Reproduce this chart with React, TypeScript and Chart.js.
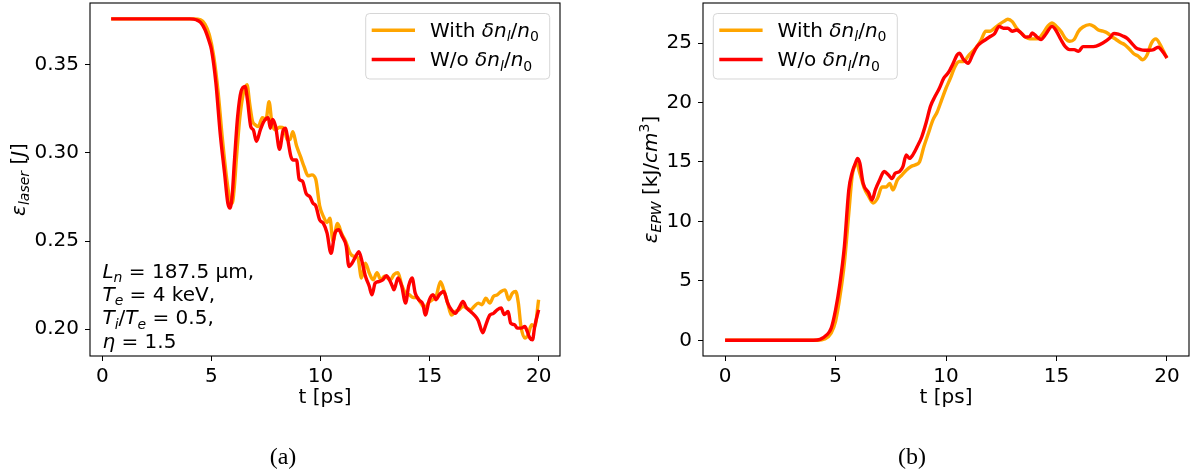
import React, { useEffect, useRef } from 'react';
import { Chart, registerables } from 'chart.js';
Chart.register(...registerables);

const FONT = '"DejaVu Sans", sans-serif';
const FS = 20;
const ORANGE = '#FFA500';
const RED = '#FF0000';

// ---------- Panel (a): laser energy ----------
const laserTimeWith = [0.4, 2.0, 4.2, 4.5, 4.7, 4.9, 5.1, 5.3, 5.5, 5.7, 5.85, 5.95, 6.05, 6.15, 6.3, 6.45, 6.63, 6.75, 6.88, 7.0, 7.15, 7.33, 7.5, 7.64, 7.77, 7.94, 8.12, 8.33, 8.47, 8.6, 8.73, 8.9, 9.08, 9.25, 9.43, 9.6, 9.78, 9.96, 10.13, 10.3, 10.43, 10.57, 10.78, 10.96, 11.18, 11.36, 11.53, 11.71, 11.88, 12.06, 12.23, 12.41, 12.59, 12.76, 12.94, 13.2, 13.37, 13.55, 13.72, 13.9, 14.07, 14.25, 14.43, 14.6, 14.78, 14.95, 15.13, 15.3, 15.5, 15.65, 15.83, 16.0, 16.18, 16.35, 16.53, 16.7, 16.88, 17.05, 17.23, 17.4, 17.58, 17.76, 17.93, 18.1, 18.28, 18.46, 18.63, 18.8, 18.95, 19.07, 19.19, 19.37, 19.51, 19.68, 19.82, 20.0];
const laserWith = [0.376, 0.376, 0.376, 0.3755, 0.373, 0.367, 0.355, 0.335, 0.308, 0.285, 0.273, 0.2715, 0.281, 0.298, 0.32, 0.333, 0.3387, 0.328, 0.318, 0.316, 0.315, 0.32, 0.319, 0.329, 0.317, 0.313, 0.3145, 0.314, 0.3075, 0.3075, 0.312, 0.304, 0.298, 0.292, 0.287, 0.2875, 0.285, 0.27, 0.264, 0.2605, 0.263, 0.25, 0.26, 0.2545, 0.249, 0.243, 0.2413, 0.2404, 0.229, 0.2375, 0.232, 0.228, 0.232, 0.228, 0.23, 0.228, 0.231, 0.232, 0.2252, 0.2205, 0.2195, 0.218, 0.218, 0.2148, 0.212, 0.215, 0.2167, 0.2186, 0.227, 0.2223, 0.2148, 0.208, 0.21, 0.211, 0.213, 0.212, 0.211, 0.213, 0.2148, 0.2139, 0.2176, 0.2148, 0.2186, 0.2195, 0.2214, 0.2223, 0.2167, 0.2205, 0.2214, 0.2148, 0.2015, 0.195, 0.1967, 0.2025, 0.2015, 0.2167];
const laserTimeWo = [0.4, 2.0, 4.0, 4.3, 4.5, 4.7, 4.9, 5.0, 5.2, 5.4, 5.6, 5.75, 5.85, 5.95, 6.05, 6.2, 6.36, 6.54, 6.65, 6.8, 6.92, 7.06, 7.24, 7.41, 7.6, 7.7, 7.8, 7.94, 8.12, 8.29, 8.4, 8.5, 8.64, 8.73, 8.9, 9.02, 9.17, 9.34, 9.52, 9.65, 9.78, 9.96, 10.13, 10.3, 10.48, 10.66, 10.83, 11.0, 11.18, 11.3, 11.45, 11.62, 11.76, 11.88, 12.06, 12.23, 12.36, 12.5, 12.67, 12.85, 13.02, 13.16, 13.29, 13.37, 13.55, 13.72, 13.9, 14.04, 14.2, 14.34, 14.5, 14.7, 14.8, 14.99, 15.16, 15.3, 15.44, 15.65, 15.83, 16.0, 16.18, 16.35, 16.53, 16.7, 16.88, 17.05, 17.23, 17.44, 17.58, 17.76, 17.93, 18.1, 18.28, 18.42, 18.6, 18.72, 18.9, 19.02, 19.19, 19.37, 19.47, 19.6, 19.72, 19.82, 20.0];
const laserWo = [0.376, 0.376, 0.376, 0.3755, 0.374, 0.37, 0.363, 0.3585, 0.34, 0.311, 0.2885, 0.2715, 0.2687, 0.276, 0.295, 0.3207, 0.335, 0.3377, 0.33, 0.315, 0.313, 0.3065, 0.313, 0.318, 0.32, 0.314, 0.319, 0.315, 0.302, 0.313, 0.314, 0.3075, 0.298, 0.296, 0.296, 0.285, 0.284, 0.277, 0.275, 0.2715, 0.27, 0.262, 0.26, 0.2545, 0.243, 0.2545, 0.2564, 0.2525, 0.247, 0.2356, 0.2375, 0.2415, 0.244, 0.2395, 0.23, 0.2245, 0.2195, 0.226, 0.227, 0.228, 0.2303, 0.228, 0.2245, 0.2223, 0.229, 0.2245, 0.2148, 0.2245, 0.229, 0.2205, 0.2167, 0.214, 0.208, 0.2167, 0.2195, 0.2167, 0.2195, 0.2214, 0.2148, 0.211, 0.209, 0.212, 0.2157, 0.212, 0.21, 0.208, 0.205, 0.198, 0.2025, 0.208, 0.209, 0.211, 0.212, 0.2083, 0.21, 0.2034, 0.2025, 0.2006, 0.2006, 0.2015, 0.199, 0.195, 0.194, 0.2015, 0.211];
const laserXTicks = [0, 5, 10, 15, 20];
const laserXTickLabels = ['0', '5', '10', '15', '20'];
const laserYTicks = [0.2, 0.25, 0.3, 0.35];
const laserYTickLabels = ['0.20', '0.25', '0.30', '0.35'];

// ---------- Panel (b): EPW energy ----------
const epwTimeWith = [0, 2, 4.2, 4.5, 4.8, 5.0, 5.2, 5.4, 5.6, 5.75, 5.85, 5.95, 6.1, 6.3, 6.5, 6.7, 6.9, 7.1, 7.3, 7.45, 7.6, 7.8, 8.0, 8.2, 8.4, 8.6, 8.8, 9.0, 9.2, 9.4, 9.6, 9.8, 10.0, 10.2, 10.4, 10.6, 10.8, 11.0, 11.2, 11.4, 11.6, 11.8, 12.0, 12.2, 12.4, 12.6, 12.8, 13.0, 13.2, 13.4, 13.6, 13.8, 14.0, 14.2, 14.4, 14.6, 14.8, 15.0, 15.2, 15.4, 15.6, 15.8, 16.0, 16.2, 16.5, 16.7, 16.9, 17.1, 17.3, 17.5, 17.7, 17.9, 18.1, 18.3, 18.5, 18.7, 18.9, 19.1, 19.3, 19.5, 19.7, 19.85, 20.0];
const epwWith = [0, 0, 0, 0.1, 0.6, 1.6, 3.7, 6.5, 10.7, 13.8, 14.6, 14.9, 14.05, 12.8, 12.1, 11.55, 11.95, 12.9, 12.9, 13.2, 12.65, 13.5, 13.9, 14.3, 14.6, 14.75, 15.0, 16.3, 17.4, 18.5, 19.2, 20.2, 21.2, 22.05, 23.0, 23.45, 23.45, 23.9, 24.3, 24.7, 25.3, 26.0, 26.0, 26.25, 26.55, 26.8, 27.0, 26.8, 26.25, 25.85, 25.5, 25.35, 25.35, 25.4, 25.85, 26.4, 26.7, 26.4, 26.0, 25.4, 25.15, 25.3, 26.0, 26.35, 26.55, 26.4, 26.1, 26.0, 25.85, 25.55, 25.3, 25.05, 24.85, 24.5, 24.1, 23.9, 23.6, 24.0, 25.0, 25.35, 24.85, 24.3, 23.75];
const epwTimeWo = [0, 2, 4.0, 4.3, 4.6, 4.8, 5.0, 5.2, 5.4, 5.6, 5.75, 5.9, 6.0, 6.1, 6.25, 6.5, 6.65, 6.8, 7.0, 7.2, 7.4, 7.55, 7.7, 7.9, 8.05, 8.2, 8.35, 8.5, 8.7, 8.9, 9.1, 9.3, 9.5, 9.7, 9.9, 10.1, 10.3, 10.5, 10.6, 10.8, 11.0, 11.2, 11.4, 11.6, 11.8, 12.0, 12.2, 12.4, 12.6, 12.8, 13.0, 13.2, 13.4, 13.6, 13.8, 13.9, 14.1, 14.3, 14.5, 14.8, 15.0, 15.2, 15.4, 15.6, 15.8, 16.0, 16.2, 16.5, 16.8, 17.1, 17.4, 17.6, 17.8, 18.0, 18.2, 18.4, 18.6, 18.8, 19.0, 19.2, 19.4, 19.6, 19.8, 20.0];
const epwWo = [0, 0, 0, 0.08, 0.45, 1.0, 2.55, 4.8, 7.9, 12.65, 14.1, 14.9, 15.3, 14.9, 13.2, 12.4, 11.8, 12.65, 13.5, 14.2, 13.9, 13.6, 14.05, 14.2, 14.6, 15.6, 15.3, 15.6, 16.3, 17.1, 18.3, 19.7, 20.5, 21.2, 22.05, 22.5, 23.2, 24.0, 24.15, 23.6, 23.3, 24.0, 24.7, 25.05, 25.3, 25.55, 25.8, 26.4, 26.25, 26.25, 26.0, 26.1, 25.85, 25.5, 25.55, 25.85, 25.55, 25.3, 25.7, 26.4, 26.0, 25.3, 24.7, 24.45, 24.45, 24.3, 24.7, 24.7, 24.75, 25.0, 25.4, 25.8, 25.75, 25.6, 25.4, 25.0, 24.6, 24.45, 24.4, 24.4, 24.45, 24.65, 24.3, 23.75];
const epwXTicks = [0, 5, 10, 15, 20];
const epwXTickLabels = ['0', '5', '10', '15', '20'];
const epwYTicks = [0, 5, 10, 15, 20, 25];
const epwYTickLabels = ['0', '5', '10', '15', '20', '25'];

const seriesNames = ['With δnₗ/n₀', 'W/o δnₗ/n₀'];

type Seg = { t: string; it?: boolean; sub?: boolean; sup?: boolean };

const legendWith: Seg[] = [{ t: 'With ' }, { t: 'δn', it: true }, { t: 'l', it: true, sub: true }, { t: '/' }, { t: 'n', it: true }, { t: '0', sub: true }];
const legendWo: Seg[] = [{ t: 'W/o ' }, { t: 'δn', it: true }, { t: 'l', it: true, sub: true }, { t: '/' }, { t: 'n', it: true }, { t: '0', sub: true }];
const xTitle: Seg[] = [{ t: 't [ps]' }];
const laserYTitle: Seg[] = [{ t: 'ε', it: true }, { t: 'laser', it: true, sub: true }, { t: ' [' }, { t: 'J', it: true }, { t: ']' }];
const epwYTitle: Seg[] = [{ t: 'ε', it: true }, { t: 'EPW', it: true, sub: true }, { t: ' [kJ/' }, { t: 'cm', it: true }, { t: '3', sup: true }, { t: ']' }];
const laserNote: Seg[][] = [
  [{ t: 'L', it: true }, { t: 'n', it: true, sub: true }, { t: ' = 187.5 μm,' }],
  [{ t: 'T', it: true }, { t: 'e', it: true, sub: true }, { t: ' = 4 keV,' }],
  [{ t: 'T', it: true }, { t: 'i', it: true, sub: true }, { t: '/' }, { t: 'T', it: true }, { t: 'e', it: true, sub: true }, { t: ' = 0.5,' }],
  [{ t: 'η', it: true }, { t: ' = 1.5' }],
];

function segFont(s: Seg, size: number) {
  const sz = s.sub || s.sup ? size * 0.7 : size;
  return `${s.it ? 'italic ' : ''}${sz}px ${FONT}`;
}
function richWidth(ctx: CanvasRenderingContext2D, segs: Seg[], size: number) {
  let w = 0;
  for (const s of segs) {
    ctx.font = segFont(s, size);
    w += ctx.measureText(s.t).width;
  }
  return w;
}
function drawRich(ctx: CanvasRenderingContext2D, segs: Seg[], x: number, y: number, size: number, align: 'left' | 'center' = 'left') {
  const w = richWidth(ctx, segs, size);
  let cx = align === 'center' ? x - w / 2 : x;
  ctx.textBaseline = 'alphabetic';
  ctx.textAlign = 'left';
  ctx.fillStyle = '#000';
  for (const s of segs) {
    ctx.font = segFont(s, size);
    const dy = s.sub ? size * 0.22 : s.sup ? -size * 0.42 : 0;
    ctx.fillText(s.t, cx, y + dy);
    cx += ctx.measureText(s.t).width;
  }
}
function roundRect(ctx: CanvasRenderingContext2D, x: number, y: number, w: number, h: number, r: number) {
  ctx.beginPath();
  ctx.moveTo(x + r, y);
  ctx.lineTo(x + w - r, y);
  ctx.arcTo(x + w, y, x + w, y + r, r);
  ctx.lineTo(x + w, y + h - r);
  ctx.arcTo(x + w, y + h, x + w - r, y + h, r);
  ctx.lineTo(x + r, y + h);
  ctx.arcTo(x, y + h, x, y + h - r, r);
  ctx.lineTo(x, y + r);
  ctx.arcTo(x, y, x + r, y, r);
  ctx.closePath();
}

type PanelSpec = {
  tWith: number[]; yWith: number[]; tWo: number[]; yWo: number[];
  xMin: number; xMax: number; yMin: number; yMax: number;
  xTicks: number[]; xLabels: string[]; yTicks: number[]; yLabels: string[];
  yAxisWidth: number; padRight: number;
  yTitle: Seg[]; yTitleX: number;
  legendSide: 'left' | 'right';
  note?: Seg[][];
  caption: string; captionX: number;
};

function zeroPad(s: any) {
  s.paddingTop = 0; s.paddingBottom = 0; s.paddingLeft = 0; s.paddingRight = 0;
}

function buildConfig(p: PanelSpec): any {
  const decor = {
    id: 'decor',
    afterDatasetsDraw(chart: any) {
      const ctx: CanvasRenderingContext2D = chart.ctx;
      const a = chart.chartArea;
      ctx.save();
      // frame (all four spines)
      ctx.strokeStyle = '#000';
      ctx.lineWidth = 1.1;
      ctx.strokeRect(a.left, a.top, a.right - a.left, a.bottom - a.top);
      // legend
      const boxW = 184, boxH = 65.5;
      const bx = p.legendSide === 'right' ? a.right - 10.3 - boxW : a.left + 10.3;
      const by = a.top + 10.5;
      roundRect(ctx, bx, by, boxW, boxH, 4);
      ctx.fillStyle = 'rgba(255,255,255,0.8)';
      ctx.fill();
      ctx.strokeStyle = 'rgba(204,204,204,0.8)';
      ctx.lineWidth = 1;
      ctx.stroke();
      const rows: [string, Seg[]][] = [[ORANGE, legendWith], [RED, legendWo]];
      rows.forEach(([c, segs], i) => {
        const ry = by + 16.7 + i * 29.3;
        ctx.strokeStyle = c;
        ctx.lineWidth = 3.4;
        ctx.beginPath();
        ctx.moveTo(bx + 6, ry);
        ctx.lineTo(bx + 49.3, ry);
        ctx.stroke();
        drawRich(ctx, segs, bx + 64.3, ry + 6.8, FS);
      });
      // annotation
      if (p.note) {
        const x0 = chart.scales.x.getPixelForValue(0);
        p.note.forEach((line, i) => drawRich(ctx, line, x0, 277.5 + i * 23.4, FS));
      }
      // axis titles
      drawRich(ctx, xTitle, (a.left + a.right) / 2, 403, FS, 'center');
      ctx.save();
      ctx.translate(p.yTitleX, (a.top + a.bottom) / 2);
      ctx.rotate(-Math.PI / 2);
      drawRich(ctx, p.yTitle, 0, 0, FS, 'center');
      ctx.restore();
      // caption
      ctx.fillStyle = '#000';
      ctx.font = '24px "Liberation Serif", serif';
      ctx.textAlign = 'center';
      ctx.textBaseline = 'alphabetic';
      ctx.fillText(p.caption, p.captionX, 464);
      ctx.restore();
    },
  };

  const mk = (t: number[], y: number[]) => t.map((v, i) => ({ x: v, y: y[i] }));
  const tickFont = { family: FONT, size: FS };
  return {
    type: 'line',
    data: {
      datasets: [
        { label: seriesNames[0], data: mk(p.tWith, p.yWith), borderColor: ORANGE, borderWidth: 3.4, pointRadius: 0, cubicInterpolationMode: 'monotone', order: 1, fill: false },
        { label: seriesNames[1], data: mk(p.tWo, p.yWo), borderColor: RED, borderWidth: 3.4, pointRadius: 0, cubicInterpolationMode: 'monotone', order: 0, fill: false },
      ],
    },
    options: {
      animation: false,
      responsive: false,
      maintainAspectRatio: false,
      events: [],
      layout: { padding: { left: 0, top: 3, right: p.padRight, bottom: 0 } },
      plugins: { legend: { display: false }, tooltip: { enabled: false }, title: { display: false } },
      scales: {
        x: {
          type: 'linear', min: p.xMin, max: p.xMax,
          afterFit: (s: any) => { s.height = 116; zeroPad(s); },
          afterBuildTicks: (s: any) => { s.ticks = p.xTicks.map((v) => ({ value: v })); },
          ticks: { font: tickFont, color: '#000', padding: 4, autoSkip: false, maxRotation: 0, callback: (_v: any, i: number) => p.xLabels[i] },
          grid: { display: true, drawOnChartArea: false, drawTicks: true, tickLength: 5, tickColor: '#000', tickWidth: 1 },
          border: { display: false },
        },
        y: {
          type: 'linear', min: p.yMin, max: p.yMax,
          afterFit: (s: any) => { s.width = p.yAxisWidth; zeroPad(s); },
          afterBuildTicks: (s: any) => { s.ticks = p.yTicks.map((v) => ({ value: v })); },
          ticks: { font: tickFont, color: '#000', padding: 6, autoSkip: false, callback: (_v: any, i: number) => p.yLabels[i] },
          grid: { display: true, drawOnChartArea: false, drawTicks: true, tickLength: 5, tickColor: '#000', tickWidth: 1 },
          border: { display: false },
        },
      },
    },
    plugins: [decor],
  };
}

const specA: PanelSpec = {
  tWith: laserTimeWith, yWith: laserWith, tWo: laserTimeWo, yWo: laserWo,
  xMin: -0.57, xMax: 20.98, yMin: 0.1848, yMax: 0.385,
  xTicks: laserXTicks, xLabels: laserXTickLabels, yTicks: laserYTicks, yLabels: laserYTickLabels,
  yAxisWidth: 90, padRight: 37,
  yTitle: laserYTitle, yTitleX: 25,
  legendSide: 'right', note: laserNote,
  caption: '(a)', captionX: 283,
};
const specB: PanelSpec = {
  tWith: epwTimeWith, yWith: epwWith, tWo: epwTimeWo, yWo: epwWo,
  xMin: -1, xMax: 21, yMin: -1.32, yMax: 28.37,
  xTicks: epwXTicks, xLabels: epwXTickLabels, yTicks: epwYTicks, yLabels: epwYTickLabels,
  yAxisWidth: 106, padRight: 5,
  yTitle: epwYTitle, yTitleX: 60,
  legendSide: 'left',
  caption: '(b)', captionX: 315,
};

export default function App() {
  const refA = useRef<HTMLCanvasElement>(null);
  const refB = useRef<HTMLCanvasElement>(null);
  useEffect(() => {
    document.body.style.margin = '0';
    const a = new Chart(refA.current as HTMLCanvasElement, buildConfig(specA));
    const b = new Chart(refB.current as HTMLCanvasElement, buildConfig(specB));
    return () => { a.destroy(); b.destroy(); };
  }, []);
  return (
    <div style={{ position: 'absolute', left: 0, top: 0, width: 1194, height: 472, background: '#fff' }}>
      <canvas ref={refA} width={597} height={472} style={{ position: 'absolute', left: 0, top: 0, width: 597, height: 472 }} />
      <canvas ref={refB} width={597} height={472} style={{ position: 'absolute', left: 597, top: 0, width: 597, height: 472 }} />
    </div>
  );
}
